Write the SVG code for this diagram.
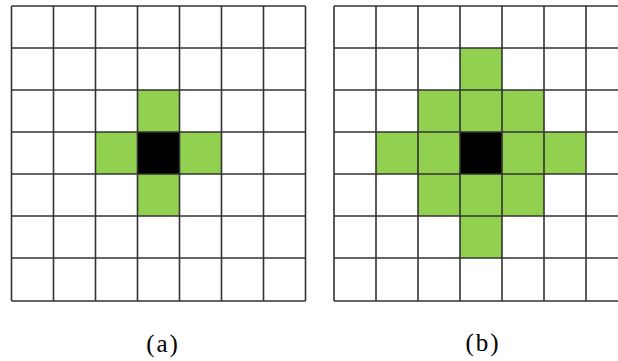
<svg xmlns="http://www.w3.org/2000/svg" width="618" height="361" viewBox="0 0 618 361">
<style>
.g{fill:#92D050}
.k{fill:#000}
.ln{stroke:#333;stroke-width:1.6;fill:none}
.lbl{font-family:"Liberation Serif",serif;font-size:25px;letter-spacing:2px;fill:#000;text-anchor:middle}
</style>
<rect width="618" height="361" fill="#fff"/>
<g id="panel-a">
<rect class="g" x="137.5" y="90" width="42" height="42"/>
<rect class="g" x="95.5" y="132" width="42" height="42"/>
<rect class="g" x="179.5" y="132" width="42" height="42"/>
<rect class="g" x="137.5" y="174" width="42" height="42"/>
<rect class="k" x="137.5" y="132" width="42" height="42"/>
<path class="ln" d="M11.5 6V301M53.5 6V301M95.5 6V301M137.5 6V301M179.5 6V301M221.5 6V301M263.5 6V301M305.5 6V301M11.5 6H305.5M11.5 48H305.5M11.5 90H305.5M11.5 132H305.5M11.5 174H305.5M11.5 216H305.5M11.5 258H305.5M11.5 301H305.5"/>
</g>
<g id="panel-b">
<rect class="g" x="460" y="48" width="42" height="42"/>
<rect class="g" x="418" y="90" width="126" height="42"/>
<rect class="g" x="376" y="132" width="210" height="42"/>
<rect class="g" x="418" y="174" width="126" height="42"/>
<rect class="g" x="460" y="216" width="42" height="42"/>
<rect class="k" x="460" y="132" width="42" height="42"/>
<path class="ln" d="M334 6V301M376 6V301M418 6V301M460 6V301M502 6V301M544 6V301M586 6V301M628 6V301M334 6H628M334 48H628M334 90H628M334 132H628M334 174H628M334 216H628M334 258H628M334 301H628"/>
</g>
<g id="labels">
<text class="lbl" x="163" y="352">(a)</text>
<text class="lbl" x="483" y="351">(b)</text>
</g>
</svg>
